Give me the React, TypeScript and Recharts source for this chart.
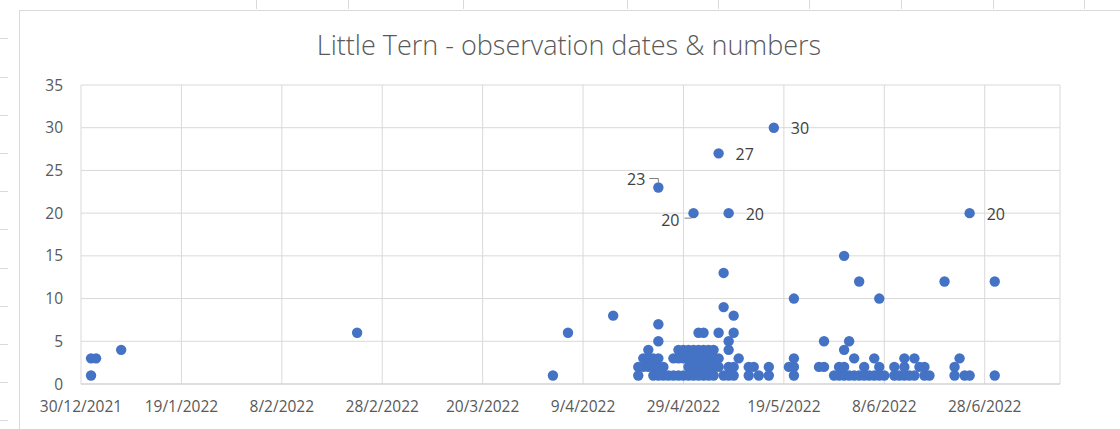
import React from 'react';
import { ScatterChart, Scatter, XAxis, YAxis, CartesianGrid } from 'recharts';

// observation dates (d/m/yyyy) and bird counts, one entry per observation
const obsDates = [
  '1/1/2022', '1/1/2022', '2/1/2022', '7/1/2022', '23/2/2022', '3/4/2022', '6/4/2022', '15/4/2022',
  '20/4/2022', '20/4/2022',
  '21/4/2022', '21/4/2022',
  '22/4/2022', '22/4/2022', '22/4/2022',
  '23/4/2022', '23/4/2022', '23/4/2022',
  '24/4/2022', '24/4/2022', '24/4/2022', '24/4/2022', '24/4/2022', '24/4/2022',
  '25/4/2022', '25/4/2022',
  '26/4/2022',
  '27/4/2022', '27/4/2022',
  '28/4/2022', '28/4/2022', '28/4/2022',
  '29/4/2022', '29/4/2022', '29/4/2022',
  '30/4/2022', '30/4/2022', '30/4/2022', '30/4/2022',
  '1/5/2022', '1/5/2022', '1/5/2022', '1/5/2022', '1/5/2022',
  '2/5/2022', '2/5/2022', '2/5/2022', '2/5/2022', '2/5/2022',
  '3/5/2022', '3/5/2022', '3/5/2022', '3/5/2022', '3/5/2022',
  '4/5/2022', '4/5/2022', '4/5/2022', '4/5/2022',
  '5/5/2022', '5/5/2022', '5/5/2022', '5/5/2022',
  '6/5/2022', '6/5/2022', '6/5/2022', '6/5/2022',
  '7/5/2022', '7/5/2022', '7/5/2022',
  '8/5/2022', '8/5/2022', '8/5/2022', '8/5/2022', '8/5/2022',
  '9/5/2022', '9/5/2022', '9/5/2022', '9/5/2022',
  '10/5/2022',
  '12/5/2022', '12/5/2022',
  '13/5/2022',
  '14/5/2022',
  '16/5/2022', '16/5/2022',
  '17/5/2022',
  '20/5/2022',
  '21/5/2022', '21/5/2022', '21/5/2022', '21/5/2022',
  '26/5/2022',
  '27/5/2022',
  '27/5/2022',
  '29/5/2022',
  '30/5/2022', '30/5/2022',
  '31/5/2022', '31/5/2022', '31/5/2022', '31/5/2022',
  '1/6/2022', '1/6/2022',
  '2/6/2022', '2/6/2022',
  '3/6/2022', '3/6/2022',
  '4/6/2022', '4/6/2022',
  '5/6/2022',
  '6/6/2022', '6/6/2022',
  '7/6/2022', '7/6/2022', '7/6/2022',
  '8/6/2022',
  '10/6/2022', '10/6/2022',
  '11/6/2022',
  '12/6/2022', '12/6/2022', '12/6/2022',
  '13/6/2022',
  '14/6/2022', '14/6/2022',
  '15/6/2022',
  '16/6/2022', '16/6/2022',
  '17/6/2022',
  '20/6/2022',
  '22/6/2022', '22/6/2022',
  '23/6/2022',
  '24/6/2022',
  '25/6/2022', '25/6/2022',
  '30/6/2022', '30/6/2022',
];

const obsCounts = [
  1, 3, 3, 4, 6, 1, 6, 8,
  1, 2,
  2, 3,
  2, 3, 4,
  1, 2, 3,
  1, 2, 3, 5, 7, 23,
  1, 2,
  1,
  1, 3,
  1, 3, 4,
  1, 3, 4,
  1, 2, 3, 4,
  1, 2, 3, 4, 20,
  1, 2, 3, 4, 6,
  1, 2, 3, 4, 6,
  1, 2, 3, 4,
  1, 2, 3, 4,
  2, 3, 6, 27,
  1, 9, 13,
  1, 2, 4, 5, 20,
  1, 2, 6, 8,
  3,
  1, 2,
  2,
  1,
  1, 2,
  30,
  2,
  1, 2, 3, 10,
  2,
  2,
  5,
  1,
  1, 2,
  1, 2, 4, 15,
  1, 5,
  1, 3,
  1, 12,
  1, 2,
  1,
  1, 3,
  1, 2, 10,
  1,
  1, 2,
  1,
  1, 2, 3,
  1,
  1, 3,
  2,
  1, 2,
  1,
  12,
  1, 2,
  3,
  1,
  1, 20,
  1, 12,
];

const xTickLabels = [
  '30/12/2021', '19/1/2022', '8/2/2022', '28/2/2022', '20/3/2022',
  '9/4/2022', '29/4/2022', '19/5/2022', '8/6/2022', '28/6/2022',
];
const yTicks = [0, 5, 10, 15, 20, 25, 30, 35];

// counts of 20 or more carry a data label
const labelThreshold = 20;
// labels Excel placed on the left of their point (with a leader line)
const leftLabelPlacement: Record<string, 'above' | 'below'> = {
  '24/4/2022': 'above',
  '1/5/2022': 'below',
};

const toDay = (s: string) => {
  const [d, m, y] = s.split('/').map(Number);
  return Date.UTC(y, m - 1, d) / 86400000;
};
const origin = toDay(xTickLabels[0]);
const xTicks = xTickLabels.map((l) => toDay(l) - origin);
const data = obsDates.map((d, i) => ({ date: d, day: toDay(d) - origin, count: obsCounts[i] }));

const font = '"Open Sans", "Noto Sans", sans-serif';
const blue = '#4472C4';

const Dot = (props: any) => {
  const { cx, cy, payload } = props;
  if (cx == null || cy == null) return null;
  const showLabel = payload.count >= labelThreshold;
  const side = leftLabelPlacement[payload.date];
  return (
    <g>
      <circle cx={cx} cy={cy} r={5.2} fill={blue} />
      {showLabel && !side && (
        <text x={cx + 17} y={cy + 1} dy="0.35em" fontSize={16} fill="#404040" fontFamily={font}>
          {payload.count}
        </text>
      )}
      {showLabel && side === 'above' && (
        <g>
          <path d={`M${cx - 9},${cy - 9}H${cx}V${cy - 5}`} stroke="#7f7f7f" fill="none" strokeWidth={1} />
          <text x={cx - 13} y={cy - 8} dy="0.35em" textAnchor="end" fontSize={16} fill="#404040" fontFamily={font}>
            {payload.count}
          </text>
        </g>
      )}
      {showLabel && side === 'below' && (
        <g>
          <path d={`M${cx - 9},${cy + 5}H${cx - 2}`} stroke="#7f7f7f" fill="none" strokeWidth={1} />
          <text x={cx - 14} y={cy + 7} dy="0.35em" textAnchor="end" fontSize={16} fill="#404040" fontFamily={font}>
            {payload.count}
          </text>
        </g>
      )}
    </g>
  );
};

const topTicks = [256, 348, 463, 627, 718, 809, 901, 993, 1084];
const sideTicks = [38, 77, 115, 153, 191, 229, 268, 306, 344, 382, 420];

export default function App() {
  return (
    <div style={{ position: 'absolute', left: 0, top: 0, width: 1120, height: 429, background: '#fff', overflow: 'hidden' }}>
      {/* spreadsheet cell edges around the chart object */}
      {topTicks.map((x) => (
        <div key={'t' + x} style={{ position: 'absolute', left: x, top: 0, width: 1, height: 9, background: '#d9d9d9' }} />
      ))}
      {sideTicks.map((y) => (
        <div key={'s' + y} style={{ position: 'absolute', left: 0, top: y, width: 8, height: 1, background: '#d9d9d9' }} />
      ))}
      <div
        style={{
          position: 'absolute', left: 19, top: 10, width: 1110, height: 430,
          borderTop: '1px solid #d9d9d9', borderLeft: '1px solid #d9d9d9',
        }}
      />
      <div
        style={{
          position: 'absolute', left: 20, top: 29, width: 1098, textAlign: 'center',
          fontFamily: font, fontSize: 27, fontWeight: 300, lineHeight: '32px', color: '#595959',
        }}
      >
        Little Tern - observation dates &amp; numbers
      </div>
      <div style={{ position: 'absolute', left: 0, top: 0 }}>
        <ScatterChart width={1120} height={429} margin={{ top: 85, right: 60, bottom: 15, left: 31 }}>
          <CartesianGrid stroke="#d9d9d9" />
          <XAxis
            type="number"
            dataKey="day"
            domain={[0, 195]}
            ticks={xTicks}
            tickFormatter={(v: number) => xTickLabels[xTicks.indexOf(v)] ?? ''}
            interval={0}
            height={30}
            axisLine={{ stroke: '#d0d0d0' }}
            tickLine={false}
            tickSize={0}
            tickMargin={17}
            tick={{ fontSize: 15.5, fill: '#595959', fontFamily: font }}
          />
          <YAxis
            type="number"
            dataKey="count"
            domain={[0, 35]}
            ticks={yTicks}
            interval={0}
            width={50}
            axisLine={false}
            tickLine={false}
            tickSize={0}
            tickMargin={18}
            tick={{ fontSize: 15.5, fill: '#595959', fontFamily: font }}
          />
          <Scatter data={data} fill={blue} shape={Dot} isAnimationActive={false} />
        </ScatterChart>
      </div>
    </div>
  );
}
